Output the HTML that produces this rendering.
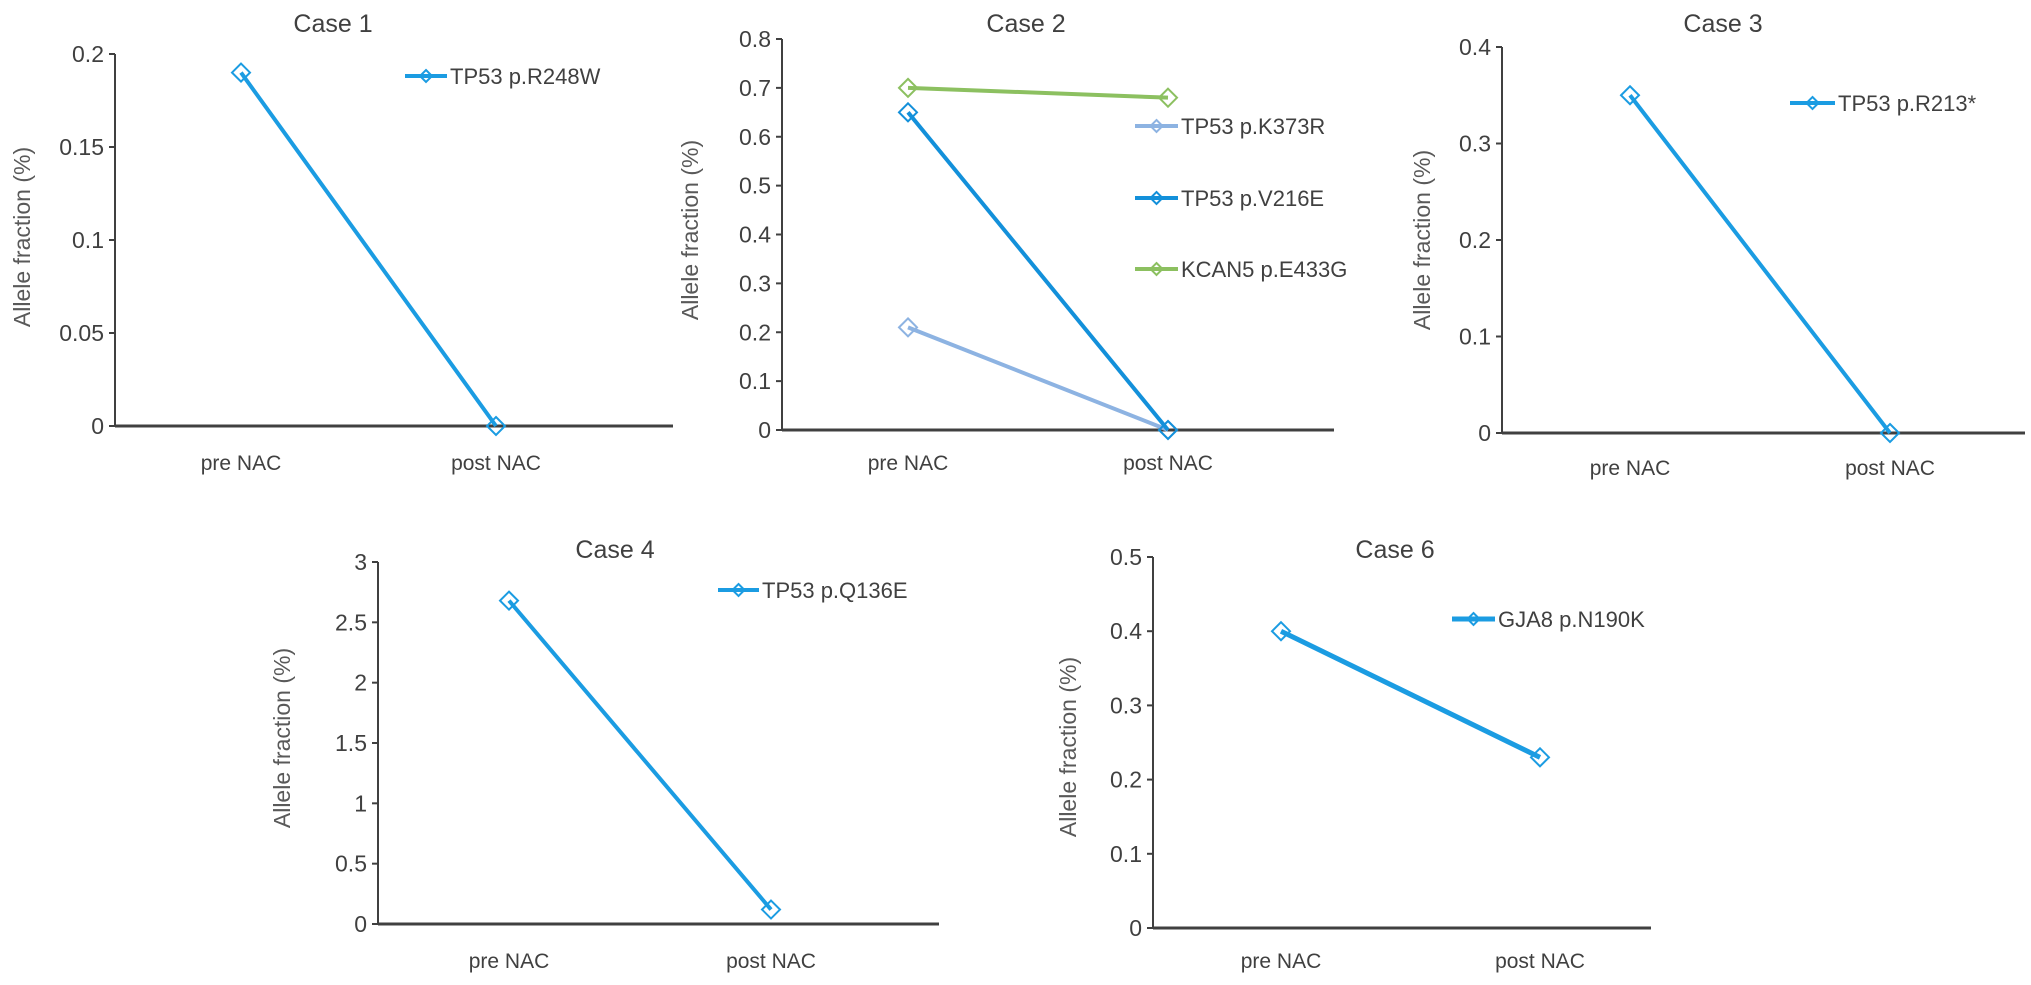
<!DOCTYPE html>
<html><head><meta charset="utf-8"><style>
html,body{margin:0;padding:0;background:#fff;}
svg{display:block;font-family:"Liberation Sans",sans-serif;}
</style></head><body>
<svg id="fig" width="2031" height="985" viewBox="0 0 2031 985"></svg>
<script>
const categories = ["pre NAC", "post NAC"];
const case1Ticks = [0, 0.05, 0.1, 0.15, 0.2];
const case1Values = [0.19, 0];
const case2Ticks = [0, 0.1, 0.2, 0.3, 0.4, 0.5, 0.6, 0.7, 0.8];
const case2K373R = [0.21, 0];
const case2V216E = [0.65, 0];
const case2E433G = [0.70, 0.68];
const case3Ticks = [0, 0.1, 0.2, 0.3, 0.4];
const case3Values = [0.35, 0];
const case4Ticks = [0, 0.5, 1, 1.5, 2, 2.5, 3];
const case4Values = [2.68, 0.12];
const case6Ticks = [0, 0.1, 0.2, 0.3, 0.4, 0.5];
const case6Values = [0.40, 0.23];

const NS = "http://www.w3.org/2000/svg";
const svg = document.getElementById("fig");
function mk(tag, attrs, parent, text) {
  const e = document.createElementNS(NS, tag);
  for (const k in attrs) e.setAttribute(k, attrs[k]);
  if (text !== undefined) e.textContent = text;
  (parent || svg).appendChild(e);
  return e;
}
function diamond(g, x, y, color, r) {
  return mk("polygon", {points: `${x},${y-r} ${x+r},${y} ${x},${y+r} ${x-r},${y}`, fill: "none", stroke: color, "stroke-width": 2}, g);
}

const panels = [
  {id:"case-1", title:"Case 1", titleX:333, titleY:32, ax:115, axEnd:673, y0:426, yTop:54, ticks:case1Ticks, xPos:[241,496], labelY:470, yTitleX:30, yTitleY:237,
   series:[{name:"TP53 p.R248W", vals:case1Values, color:"#1b9ce2", w:4, lx1:405, lx2:447, ly:76}]},
  {id:"case-2", title:"Case 2", titleX:1026, titleY:32, ax:782, axEnd:1334, y0:430, yTop:39, ticks:case2Ticks, xPos:[908,1168], labelY:470, yTitleX:698, yTitleY:230,
   series:[
     {name:"TP53 p.K373R", vals:case2K373R, color:"#8db3e2", w:4, lx1:1135, lx2:1178, ly:126},
     {name:"TP53 p.V216E", vals:case2V216E, color:"#1390da", w:4, lx1:1135, lx2:1178, ly:198},
     {name:"KCAN5 p.E433G", vals:case2E433G, color:"#8cc060", w:4, lx1:1135, lx2:1178, ly:269}]},
  {id:"case-3", title:"Case 3", titleX:1723, titleY:32, ax:1502, axEnd:2025, y0:433, yTop:47, ticks:case3Ticks, xPos:[1630,1890], labelY:475, yTitleX:1430, yTitleY:240,
   series:[{name:"TP53 p.R213*", vals:case3Values, color:"#1b9ce2", w:4, lx1:1790, lx2:1835, ly:103}]},
  {id:"case-4", title:"Case 4", titleX:615, titleY:558, ax:378, axEnd:939, y0:924, yTop:562, ticks:case4Ticks, xPos:[509,771], labelY:968, yTitleX:290, yTitleY:738,
   series:[{name:"TP53 p.Q136E", vals:case4Values, color:"#1b9ce2", w:4, lx1:718, lx2:759, ly:590}]},
  {id:"case-6", title:"Case 6", titleX:1395, titleY:558, ax:1153, axEnd:1651, y0:928, yTop:557, ticks:case6Ticks, xPos:[1281,1540], labelY:968, yTitleX:1076, yTitleY:747,
   series:[{name:"GJA8  p.N190K", vals:case6Values, color:"#1b9ce2", w:5, lx1:1452, lx2:1495, ly:619}]}
];

panels.forEach(p => {
  const g = mk("g", {});
  
  
  const tmax = p.ticks[p.ticks.length-1];
  const ys = v => p.y0 - (v / tmax) * (p.y0 - p.yTop);
  const t = mk("text", {x:p.titleX, y:p.titleY, "text-anchor":"middle", "font-size":25, fill:"#404040"}, g, p.title);
  
  
  const yt = mk("text", {x:p.yTitleX, y:p.yTitleY, "text-anchor":"middle", "font-size":23, fill:"#595959", transform:`rotate(-90 ${p.yTitleX} ${p.yTitleY})`}, g, "Allele fraction  (%)");
  
  
  const ya = mk("line", {x1:p.ax, y1:p.yTop, x2:p.ax, y2:p.y0, stroke:"#404040", "stroke-width":2}, g);
  
  
  p.ticks.forEach(v => {
    const y = ys(v);
    mk("line", {x1:p.ax-6, y1:y, x2:p.ax, y2:y, stroke:"#404040", "stroke-width":2}, g);
    const tl = mk("text", {x:p.ax-11, y:y+8, "text-anchor":"end", "font-size":23, fill:"#404040"}, g, String(v));
    
    
  });
  const xa = mk("line", {x1:p.ax, y1:p.y0, x2:p.axEnd, y2:p.y0, stroke:"#404040", "stroke-width":3}, g);
  
  
  categories.forEach((c, i) => {
    const xl = mk("text", {x:p.xPos[i], y:p.labelY, "text-anchor":"middle", "font-size":21, fill:"#404040"}, g, c);
    
    
  });
  p.series.forEach(s => {
    const pts = s.vals.map((v, i) => `${p.xPos[i]},${ys(v)}`).join(" ");
    const l = mk("polyline", {points:pts, fill:"none", stroke:s.color, "stroke-width":s.w}, g);
    
    
    s.vals.forEach((v, i) => {
      const d = diamond(g, p.xPos[i], ys(v), s.color, 9);
      
      
    });
    const lg = mk("g", {}, g);
    
    
    mk("line", {x1:s.lx1, y1:s.ly, x2:s.lx2, y2:s.ly, stroke:s.color, "stroke-width":s.w}, lg);
    diamond(lg, (s.lx1+s.lx2)/2, s.ly, s.color, 6);
    mk("text", {x:s.lx2+3, y:s.ly+8, "font-size":22, fill:"#404040"}, lg, s.name);
  });
});
</script>
</body></html>
